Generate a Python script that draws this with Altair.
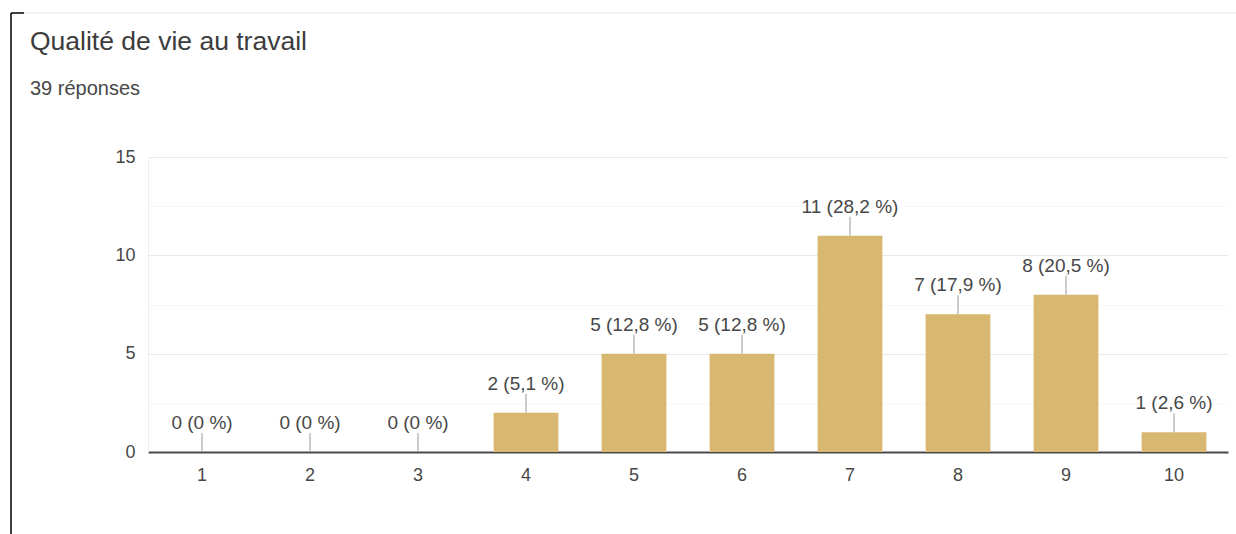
import altair as alt
import pandas as pd

title_text = "Qualité de vie au travail"
subtitle_text = "39 réponses"
categories = ["1", "2", "3", "4", "5", "6", "7", "8", "9", "10"]
counts = [0, 0, 0, 2, 5, 5, 11, 7, 8, 1]
labels = ["0 (0 %)", "0 (0 %)", "0 (0 %)", "2 (5,1 %)", "5 (12,8 %)",
          "5 (12,8 %)", "11 (28,2 %)", "7 (17,9 %)", "8 (20,5 %)", "1 (2,6 %)"]
y_ticks = [0, 2.5, 5, 7.5, 10, 12.5, 15]

df = pd.DataFrame({"cat": categories, "n": counts, "label": labels})

FONT = "Liberation Sans"
TXT = "#474747"

x_enc = alt.X(
    "cat:N", sort=categories,
    scale=alt.Scale(paddingInner=0.4, paddingOuter=0.2),
    axis=alt.Axis(title=None, labelAngle=0, ticks=False, grid=False,
                  domain=True, domainColor="#4a4a4a", domainWidth=2,
                  labelPadding=14, labelFontSize=18, labelFont=FONT,
                  labelColor=TXT),
)
y_enc = alt.Y(
    "n:Q",
    scale=alt.Scale(domain=[0, 15], nice=False),
    axis=alt.Axis(title=None, values=y_ticks, ticks=False,
                  labelExpr="datum.value % 5 === 0 ? datum.label : ''",
                  domain=True, domainColor="#eeeeee",
                  grid=True,
                  gridColor={"condition": {"test": "datum.value % 5 === 0", "value": "#e8e8e8"},
                             "value": "#f7f7f7"},
                  labelPadding=13, labelFontSize=18, labelFont=FONT,
                  labelColor=TXT),
)

base = alt.Chart(df)

bars = base.mark_bar(color="#d8b770").encode(x=x_enc, y=y_enc)

leaders = base.mark_rule(color="#9a9a9a", strokeWidth=1, y2Offset=-19).encode(
    x=alt.X("cat:N", sort=categories), y="n:Q", y2="n"
)

texts = base.mark_text(dy=-23, baseline="alphabetic", fontSize=19, font=FONT,
                       color=TXT).encode(
    x=alt.X("cat:N", sort=categories), y="n:Q", text="label:N"
)

one = alt.Chart(pd.DataFrame({"k": [0]}))
title_mark = one.mark_text(align="left", baseline="alphabetic", font=FONT,
                           fontSize=26.5, color="#3c3c3c").encode(
    x=alt.value(-118), y=alt.value(-107), text=alt.value(title_text))
subtitle_mark = one.mark_text(align="left", baseline="alphabetic", font=FONT,
                              fontSize=20, color=TXT).encode(
    x=alt.value(-118), y=alt.value(-62), text=alt.value(subtitle_text))
card_top = one.mark_rule(color="#e3e3e3", strokeWidth=1).encode(
    x=alt.value(-124), x2=alt.value(1088), y=alt.value(-144))
edge_top = one.mark_rule(color="#000000", strokeWidth=1.5).encode(
    x=alt.value(-137), x2=alt.value(-124), y=alt.value(-144))
edge_left = one.mark_rule(color="#000000", strokeWidth=1.5).encode(
    x=alt.value(-137), y=alt.value(-144), y2=alt.value(377))

chart = alt.layer(bars, leaders, texts, title_mark, subtitle_mark,
                  card_top, edge_top, edge_left).properties(
    width=1080, height=295,
    autosize=alt.AutoSizeParams(type="none"),
    padding={"left": 148, "top": 157, "right": 8, "bottom": 82},
    background="white",
).configure_view(stroke=None)

chart.save("out.html", embed_options={"renderer": "svg", "actions": False})
